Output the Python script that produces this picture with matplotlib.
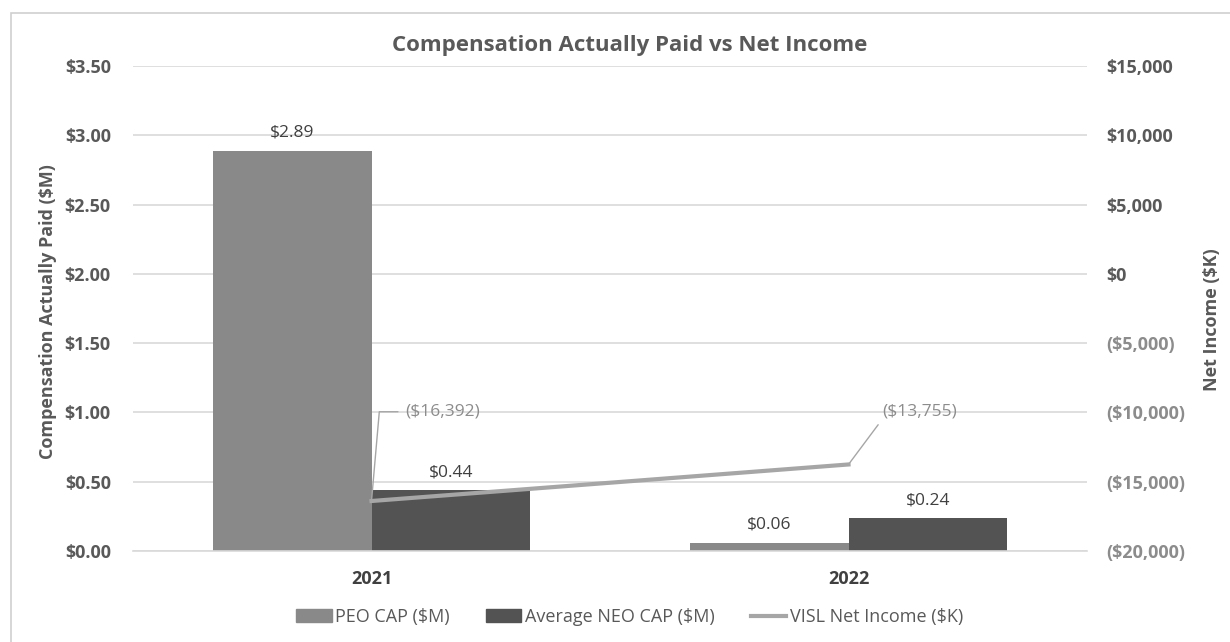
import matplotlib.pyplot as plt
import matplotlib.patches as mpatches
from matplotlib.lines import Line2D
import numpy as np

plt.rcParams['font.family'] = ['Open Sans', 'DejaVu Sans']

years = ['2021', '2022']
peo_cap = [2.89, 0.06]
neo_cap = [0.44, 0.24]
net_income = [-16392, -13755]
left_ticks = [0.0, 0.5, 1.0, 1.5, 2.0, 2.5, 3.0, 3.5]
right_ticks = [-20000, -15000, -10000, -5000, 0, 5000, 10000, 15000]

W, H = 1230, 642
fig = plt.figure(figsize=(W / 100, H / 100), dpi=100)

# outer chart frame
fig.patches.append(mpatches.Rectangle((11 / W, -0.1), 1.2, 1 - 13 / H + 0.1,
                                      transform=fig.transFigure, fill=False,
                                      edgecolor='#d0d0d0', lw=1.2))

ax = fig.add_axes([133 / W, 1 - 551 / H, (1087 - 133) / W, (551 - 66) / H])
ax2 = ax.twinx()

x = np.arange(len(years))
bw = 0.332
ax.bar(x - bw / 2, peo_cap, bw, color='#898989', zorder=2)
ax.bar(x + bw / 2, neo_cap, bw, color='#535353', zorder=2)
for xi, v in zip(x, peo_cap):
    ax.text(xi - bw / 2, v + 0.07, f'${v:.2f}', ha='center', va='bottom',
            fontsize=12.5, color='#404040')
for xi, v in zip(x, neo_cap):
    ax.text(xi + bw / 2, v + 0.07, f'${v:.2f}', ha='center', va='bottom',
            fontsize=12.5, color='#404040')

ax.set_xlim(-0.5, 1.5)
ax.set_ylim(0, 3.5)
ax.set_yticks(left_ticks)
ax.set_yticklabels([f'${t:.2f}' for t in left_ticks], fontsize=13,
                   fontweight='bold', color='#595959')
ax.set_xticks(x)
ax.set_xticklabels(years, fontsize=13, fontweight='bold', color='#404040')
ax.tick_params(axis='y', length=0, pad=16)
ax.tick_params(axis='x', length=0, pad=14)
ax.grid(axis='y', color='#d9d9d9', lw=1.2, zorder=0)
ax.set_axisbelow(True)
for s in ax.spines.values():
    s.set_visible(False)
ax.spines['bottom'].set_visible(True)
ax.spines['bottom'].set_color('#d9d9d9')
ax.spines['bottom'].set_linewidth(1.2)

ax2.plot(x, net_income, color='#a6a6a6', lw=3, zorder=3)
ax2.set_ylim(-20000, 15000)
ax2.set_yticks(right_ticks)
labels = [f'${t:,}' if t >= 0 else f'(${-t:,})' for t in right_ticks]
ax2.set_yticklabels(labels, fontsize=13, fontweight='bold')
for lab, t in zip(ax2.get_yticklabels(), right_ticks):
    lab.set_color('#595959' if t >= 0 else '#8c8c8c')
ax2.tick_params(length=0, pad=14)
for s in ax2.spines.values():
    s.set_visible(False)

# net income labels with leader lines
ax2.annotate(f'(${-net_income[0]:,})', xy=(x[0], net_income[0]),
             xytext=(x[0] + 0.07, -9950), fontsize=12.5, color='#8c8c8c',
             va='center', ha='left',
             arrowprops=dict(arrowstyle='-', color='#a6a6a6', lw=1,
                             shrinkA=3, shrinkB=0, relpos=(0, 0.5),
                             connectionstyle='angle,angleA=0,angleB=85,rad=0'))
ax2.annotate(f'(${-net_income[1]:,})', xy=(x[1], net_income[1]),
             xytext=(x[1] + 0.07, -9950), fontsize=12.5, color='#8c8c8c',
             va='center', ha='left',
             arrowprops=dict(arrowstyle='-', color='#a6a6a6', lw=1,
                             shrinkA=2, shrinkB=0, relpos=(0, 0)))

fig.text(630 / W, 1 - 45 / H, 'Compensation Actually Paid vs Net Income',
         ha='center', va='center', fontsize=16, fontweight='bold',
         color='#595959')
fig.text(48 / W, 1 - 312 / H, 'Compensation Actually Paid ($M)', rotation=90,
         ha='center', va='center', fontsize=13, fontweight='bold',
         color='#595959')
fig.text(1212 / W, 1 - 320 / H, 'Net Income ($K)', rotation=90,
         ha='center', va='center', fontsize=13, fontweight='bold',
         color='#595959')

handles = [mpatches.Patch(color='#898989', label='PEO CAP ($M)'),
           mpatches.Patch(color='#535353', label='Average NEO CAP ($M)'),
           Line2D([], [], color='#a6a6a6', lw=3, label='VISL Net Income ($K)')]
fig.legend(handles=handles, loc='center', bbox_to_anchor=(630 / W, 1 - 617 / H),
           ncol=3, frameon=False, fontsize=13, handlelength=1.95,
           handletextpad=0.22, columnspacing=2.0, labelcolor='#595959')

fig.savefig('out.png', dpi=100)
